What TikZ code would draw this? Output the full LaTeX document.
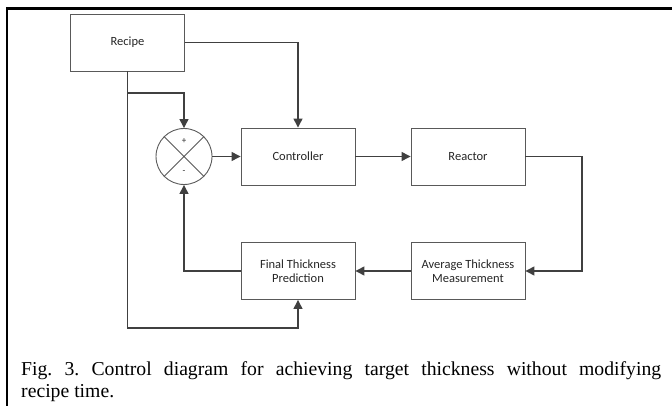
\documentclass[tikz,border=0pt]{standalone}
\usepackage{fontspec}
\setmainfont{Liberation Serif}
\newfontfamily\boxfont{Carlito}
\usetikzlibrary{arrows.meta}
\definecolor{diaggray}{RGB}{64,64,64}
\definecolor{diagedge}{RGB}{89,89,89}
\definecolor{diagink}{RGB}{38,38,38}
\tikzset{
  diagbox/.style={draw=diagedge, line width=0.9pt, minimum width=114pt,
    minimum height=57pt, inner sep=0pt, align=center, text=diagink,
    font=\boxfont\fontsize{12.5}{14}\selectfont},
  diagsum/.style={circle, draw=diagedge, line width=0.9pt, minimum size=56pt,
    inner sep=0pt},
  diagsign/.style={inner sep=0pt, text=diagink,
    font=\boxfont\fontsize{9}{10}\selectfont},
  diagline/.style={draw=diaggray, line width=1.3pt},
  diagarrow/.style={diagline, -{Triangle[length=9pt, width=9pt]}},
}

\begin{document}
\frenchspacing
\begin{tikzpicture}[x=1pt, y=-1pt]
  \useasboundingbox (0,0) rectangle (672,406);
  % frame
  \draw[black, line width=2.4pt] (7,406) -- (7,8.5) -- (672,8.5);

  % blocks
  \node[diagbox] (recipe) at (127.5,42.5) {Recipe};
  \node[diagsum] (sum) at (184,156.5) {};
  \node[diagbox] (ctrl) at (298,156.5) {Controller};
  \node[diagbox] (reactor) at (468,156.5) {Reactor};
  \node[diagbox] (avg) at (468,271) {Average Thickness\\Measurement};
  \node[diagbox] (final) at (298,271) {Final Thickness\\Prediction};

  % summing junction
  \draw[diagedge, line width=0.9pt] (sum.north west) -- (sum.south east)
    (sum.north east) -- (sum.south west);
  \node[diagsign] (plus) at (184,141) {+};
  \node[diagsign] (minus) at (184,172) {-};

  % connectors
  \coordinate (split) at (127.5,93);
  \coordinate (low) at (127.5,328);
  \coordinate (turn) at (582,156.5);
  \draw[diagarrow] (recipe.east) -| (ctrl.north);
  \draw[diagarrow] (recipe.south) -- (low) -| (final.south);
  \draw[diagarrow] (split) -| (sum.north);
  \draw[diagarrow] (sum.east) -- (ctrl.west);
  \draw[diagarrow] (ctrl.east) -- (reactor.west);
  \draw[diagarrow] (reactor.east) -- (turn) |- (avg.east);
  \draw[diagarrow] (avg.west) -- (final.east);
  \draw[diagarrow] (final.west) -| (sum.south);

  % caption
  \node[anchor=base west, text width=640pt, align=justify, inner sep=0pt,
    font=\fontsize{19.7}{22.5}\selectfont] (caption) at (21,375)
    {Fig. 3. Control diagram for achieving target thickness without modifying\linebreak recipe time.};
\end{tikzpicture}
\end{document}
